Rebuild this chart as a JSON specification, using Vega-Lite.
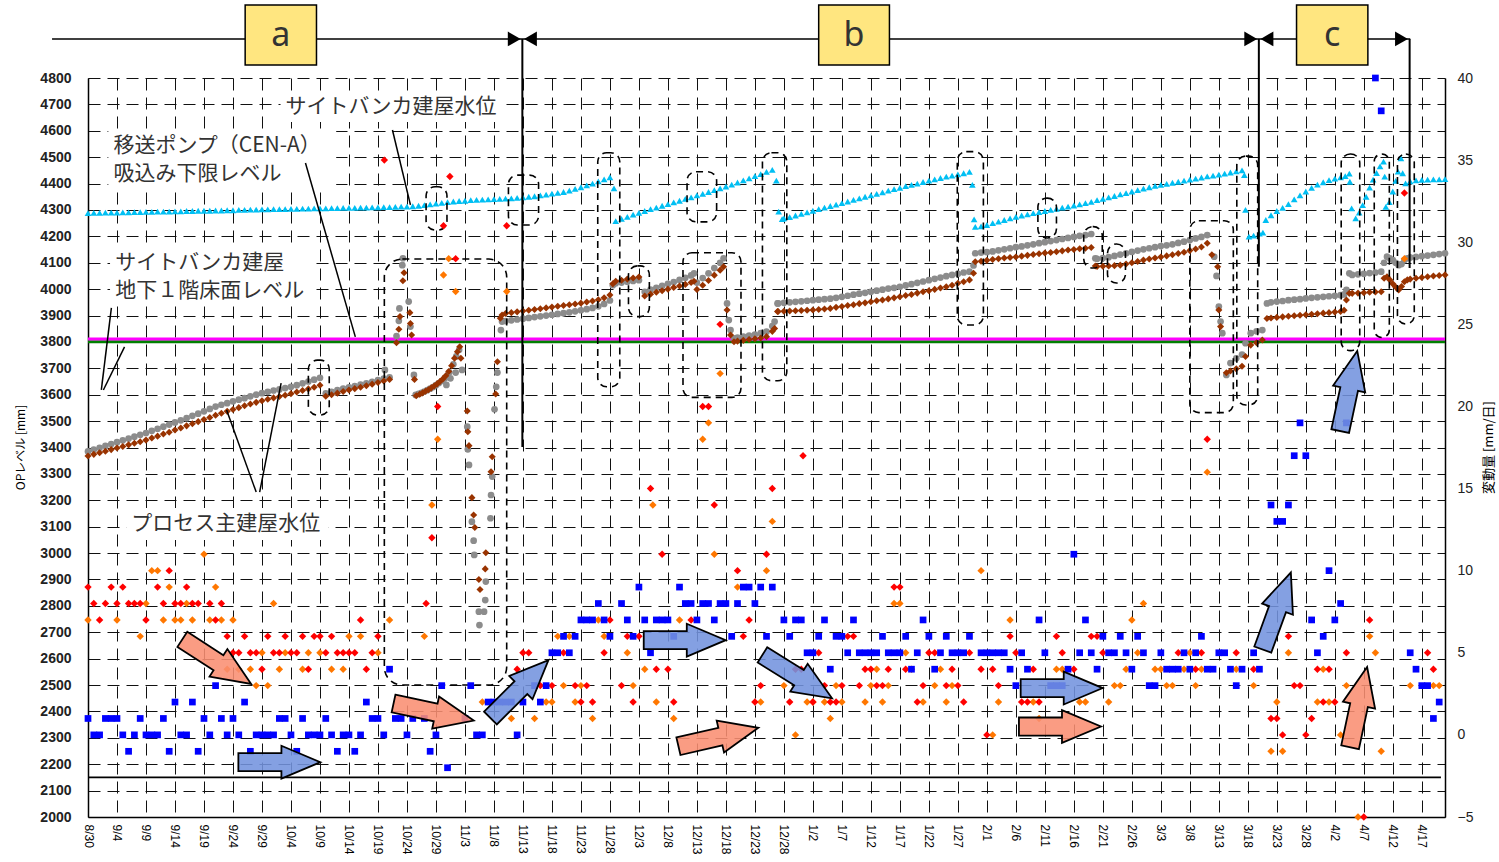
{
"$schema":"https://vega.github.io/schema/vega-lite/v6.json",
"width":1357,"height":739,
"autosize":{"type":"none"},
"padding":{"left":88,"top":78,"right":54,"bottom":45},
"background":"white",
"config":{"view":{"stroke":null},"axis":{"labelFont":"Liberation Sans","titleFont":"Noto Sans CJK JP"},"axisX":{"labelOverlap":false}},
"datasets":{
"levels":[
{"day":0,"sb":4288,"gr":3385,"br":3368},{"day":1,"sb":4289,"gr":3392,"br":3374},{"day":2,"sb":4289,"gr":3399,"br":3380},{"day":3,"sb":4290,"gr":3406,"br":3386},{"day":4,"sb":4290,"gr":3413,"br":3392},{"day":5,"sb":4290,"gr":3420,"br":3398},{"day":6,"sb":4291,"gr":3427,"br":3404},{"day":7,"sb":4291,"gr":3434,"br":3410},{"day":8,"sb":4292,"gr":3441,"br":3416},{"day":9,"sb":4292,"gr":3448,"br":3422},
{"day":10,"sb":4293,"gr":3455,"br":3428},{"day":11,"sb":4293,"gr":3463,"br":3436},{"day":12,"sb":4294,"gr":3471,"br":3443},{"day":13,"sb":4294,"gr":3479,"br":3451},{"day":14,"sb":4294,"gr":3487,"br":3458},{"day":15,"sb":4295,"gr":3495,"br":3466},{"day":16,"sb":4295,"gr":3503,"br":3474},{"day":17,"sb":4296,"gr":3511,"br":3482},{"day":18,"sb":4296,"gr":3520,"br":3490},{"day":19,"sb":4297,"gr":3528,"br":3498},
{"day":20,"sb":4297,"gr":3537,"br":3506},{"day":21,"sb":4297,"gr":3546,"br":3514},{"day":22,"sb":4298,"gr":3555,"br":3522},{"day":23,"sb":4298,"gr":3562,"br":3530},{"day":24,"sb":4299,"gr":3568,"br":3537},{"day":25,"sb":4299,"gr":3575,"br":3544},{"day":26,"sb":4300,"gr":3581,"br":3551},{"day":27,"sb":4300,"gr":3587,"br":3558},{"day":28,"sb":4301,"gr":3594,"br":3565},{"day":29,"sb":4301,"gr":3600,"br":3571},
{"day":30,"sb":4302,"gr":3606,"br":3577},{"day":31,"sb":4302,"gr":3611,"br":3583},{"day":32,"sb":4303,"gr":3616,"br":3588},{"day":33,"sb":4303,"gr":3620,"br":3593},{"day":34,"sb":4303,"gr":3625,"br":3598},{"day":35,"sb":4304,"gr":3630,"br":3604},{"day":36,"sb":4304,"gr":3636,"br":3610},{"day":37,"sb":4305,"gr":3643,"br":3616},{"day":38,"sb":4305,"gr":3650,"br":3622},{"day":39,"sb":4306,"gr":3657,"br":3628},
{"day":40,"sb":4306,"gr":3664,"br":3636},{"day":41,"sb":4306,"gr":3605,"br":3594},{"day":42,"sb":4307,"gr":3611,"br":3600},{"day":43,"sb":4307,"gr":3617,"br":3606},{"day":44,"sb":4308,"gr":3623,"br":3612},{"day":45,"sb":4308,"gr":3628,"br":3618},{"day":46,"sb":4308,"gr":3633,"br":3623},{"day":47,"sb":4309,"gr":3638,"br":3628},{"day":48,"sb":4309,"gr":3643,"br":3634},{"day":49,"sb":4310,"gr":3649,"br":3640},
{"day":50,"sb":4310,"gr":3655,"br":3646},{"day":51,"sb":4311,"gr":3661,"br":3652},{"day":52,"sb":4311,"gr":3666,"br":3658},
{"day":53,"sb":4312},{"day":54,"sb":4313},{"day":55,"sb":4313},{"day":56,"sb":4314},{"day":57,"sb":4316},{"day":58,"sb":4318},{"day":59,"sb":4321},{"day":60,"sb":4324},{"day":61,"sb":4327},{"day":62,"sb":4330},{"day":63,"sb":4332},{"day":64,"sb":4334},{"day":65,"sb":4335},{"day":66,"sb":4337},{"day":67,"sb":4338},{"day":68,"sb":4339},{"day":69,"sb":4340},{"day":70,"sb":4341},{"day":71,"sb":4342},
{"day":51.2,"gr":3694},{"day":53.2,"gr":3822,"br":3797},{"day":53.6,"gr":3880,"br":3848},{"day":53.7,"gr":3927},{"day":53.8,"br":3896},{"day":54.2,"gr":4091},{"day":54.3,"gr":4117,"br":4032},{"day":54.5,"br":4062},{"day":55.3,"gr":3953},{"day":55.5,"br":3911},{"day":55.6,"gr":3858,"br":3870},{"day":55.8,"br":3826},{"day":56.2,"gr":3675},{"day":56.3,"br":3658},
{"day":56.5,"gr":3599},{"day":57,"gr":3603},{"day":57.5,"gr":3607},{"day":58,"gr":3612},{"day":58.5,"gr":3617},{"day":59,"gr":3623},{"day":59.5,"gr":3629},{"day":60,"gr":3636},{"day":60.5,"gr":3644},{"day":61,"gr":3652},{"day":61.5,"gr":3661},{"day":61.8,"gr":3637},{"day":62,"gr":3672},{"day":62.3,"gr":3685},{"day":62.5,"gr":3662},{"day":63,"gr":3715},{"day":63.4,"gr":3684},{"day":63.5,"gr":3745},{"day":64,"gr":3770},{"day":64.5,"gr":3694},
{"day":56.6,"br":3596},{"day":57.2,"br":3602},{"day":57.7,"br":3607},{"day":58.2,"br":3613},{"day":58.7,"br":3619},{"day":59.2,"br":3626},{"day":59.7,"br":3633},{"day":60.2,"br":3641},{"day":60.7,"br":3650},{"day":61.2,"br":3660},{"day":61.7,"br":3672},{"day":62.2,"br":3688},{"day":62.7,"br":3710},{"day":63.2,"br":3738},{"day":63.7,"br":3763},{"day":64.1,"br":3782},{"day":64.3,"br":3738},
{"day":65.4,"gr":3479,"br":3538},{"day":65.5,"gr":3393,"br":3460},{"day":65.7,"gr":3334,"br":3407},{"day":66.2,"gr":3119,"br":3210},{"day":66.5,"gr":3047,"br":3144},{"day":66.6,"gr":2993},{"day":66.7,"br":3097},{"day":67.4,"gr":2778,"br":2900},{"day":67.5,"gr":2727},{"day":67.6,"br":2862},{"day":68.3,"gr":2778},{"day":68.5,"gr":2822,"br":2940},{"day":68.6,"gr":2892,"br":3001},{"day":69.4,"gr":3132},{"day":69.5,"gr":3220,"br":3308},{"day":69.7,"gr":3290,"br":3365},{"day":70.1,"gr":3545},{"day":70.3,"br":3603},{"day":70.4,"gr":3630},{"day":70.6,"gr":3684,"br":3725},{"day":71.1,"br":3890},{"day":71.2,"gr":3845},{"day":71.4,"gr":3877,"br":3902},
{"day":72,"sb":4343,"gr":3879,"br":3908},{"day":73,"sb":4344,"gr":3882,"br":3911},{"day":74,"sb":4346,"gr":3885,"br":3914},{"day":75,"sb":4348,"gr":3888,"br":3917},{"day":76,"sb":4350,"gr":3891,"br":3920},{"day":77,"sb":4352,"gr":3894,"br":3923},{"day":78,"sb":4355,"gr":3897,"br":3926},{"day":79,"sb":4358,"gr":3900,"br":3929},{"day":80,"sb":4362,"gr":3903,"br":3932},{"day":81,"sb":4365,"gr":3906,"br":3935},
{"day":82,"sb":4368,"gr":3909,"br":3938},{"day":83,"sb":4373,"gr":3912,"br":3941},{"day":84,"sb":4380,"gr":3916,"br":3944},{"day":85,"sb":4386,"gr":3920,"br":3947},{"day":86,"sb":4393,"gr":3924,"br":3951},{"day":87,"sb":4400,"gr":3929,"br":3955},{"day":88,"sb":4408,"gr":3935,"br":3960},{"day":89,"sb":4416,"gr":3944,"br":3967},{"day":90,"sb":4424,"gr":3957,"br":3978},
{"day":90.5,"gr":4015,"br":4020},{"day":90.7,"sb":4382},
{"day":91,"sb":4258,"gr":4022,"br":4030},{"day":92,"sb":4266,"gr":4025,"br":4034},{"day":93,"sb":4274,"gr":4028,"br":4038},{"day":94,"sb":4282,"gr":4031,"br":4042},{"day":95,"sb":4289,"gr":4034,"br":4046},
{"day":96,"sb":4296,"gr":3990,"br":3974},{"day":97,"sb":4303,"gr":3998,"br":3981},{"day":98,"sb":4309,"gr":4005,"br":3988},{"day":99,"sb":4316,"gr":4012,"br":3994},{"day":100,"sb":4322,"gr":4020,"br":4000},{"day":101,"sb":4329,"gr":4027,"br":4006},{"day":102,"sb":4335,"gr":4035,"br":4012},{"day":103,"sb":4342,"gr":4043,"br":4018},{"day":104,"sb":4348,"gr":4052,"br":4025},{"day":104.5,"gr":4060,"br":4030},
{"day":105,"sb":4355,"gr":4025,"br":3999},{"day":106,"sb":4361,"gr":4042,"br":4015},{"day":107,"sb":4368,"gr":4060,"br":4033},{"day":108,"sb":4375,"gr":4080,"br":4053},{"day":109,"sb":4382,"gr":4100,"br":4072},{"day":109.6,"gr":4117,"br":4085},{"day":110,"sb":4389},{"day":110.2,"gr":3946,"br":3921},{"day":110.5,"gr":3883},{"day":110.8,"gr":3845,"br":3826},{"day":111,"sb":4396},{"day":111.4,"gr":3814,"br":3801},
{"day":112,"sb":4404,"gr":3816,"br":3803},{"day":113,"sb":4412,"gr":3820,"br":3806},{"day":114,"sb":4420,"gr":3824,"br":3809},{"day":115,"sb":4428,"gr":3828,"br":3812},{"day":116,"sb":4436,"gr":3833,"br":3815},{"day":117,"sb":4444,"gr":3839,"br":3820},{"day":118,"sb":4452,"gr":3860,"br":3840},{"day":118.4,"gr":3877,"br":3851},{"day":118.7,"sb":4411},{"day":118.9,"gr":3946,"br":3915},{"day":119.1,"sb":4294},{"day":119.7,"sb":4265},
{"day":119,"gr":3946,"br":3915},{"day":120,"sb":4268,"gr":3948,"br":3916},{"day":121,"sb":4273,"gr":3950,"br":3917},{"day":122,"sb":4279,"gr":3952,"br":3918},{"day":123,"sb":4285,"gr":3954,"br":3919},{"day":124,"sb":4291,"gr":3956,"br":3920},{"day":125,"sb":4297,"gr":3958,"br":3921},{"day":126,"sb":4303,"gr":3960,"br":3923},{"day":127,"sb":4309,"gr":3962,"br":3925},{"day":128,"sb":4315,"gr":3964,"br":3927},
{"day":129,"sb":4320,"gr":3967,"br":3931},{"day":130,"sb":4326,"gr":3971,"br":3934},{"day":131,"sb":4332,"gr":3975,"br":3938},{"day":132,"sb":4338,"gr":3979,"br":3941},{"day":133,"sb":4344,"gr":3983,"br":3945},{"day":134,"sb":4350,"gr":3986,"br":3948},{"day":135,"sb":4355,"gr":3990,"br":3952},{"day":136,"sb":4361,"gr":3994,"br":3956},{"day":137,"sb":4367,"gr":3998,"br":3959},{"day":138,"sb":4373,"gr":4002,"br":3963},
{"day":139,"sb":4379,"gr":4005,"br":3967},{"day":140,"sb":4384,"gr":4009,"br":3971},{"day":141,"sb":4390,"gr":4014,"br":3976},{"day":142,"sb":4395,"gr":4019,"br":3980},{"day":143,"sb":4400,"gr":4024,"br":3985},{"day":144,"sb":4406,"gr":4029,"br":3990},{"day":145,"sb":4411,"gr":4034,"br":3994},{"day":146,"sb":4416,"gr":4039,"br":3999},{"day":147,"sb":4421,"gr":4044,"br":4004},{"day":148,"sb":4426,"gr":4049,"br":4009},
{"day":149,"sb":4430,"gr":4054,"br":4015},{"day":150,"sb":4435,"gr":4058,"br":4022},{"day":151,"sb":4439,"gr":4063,"br":4028},{"day":152,"sb":4444,"gr":4066,"br":4035},{"day":152.5,"sb":4395},{"day":152.7,"gr":4090,"br":4060},{"day":152.8,"sb":4264},
{"day":153,"sb":4236,"gr":4136,"br":4104},{"day":154,"sb":4238,"gr":4138,"br":4106},{"day":155,"sb":4243,"gr":4140,"br":4109},{"day":156,"sb":4250,"gr":4143,"br":4112},{"day":157,"sb":4256,"gr":4147,"br":4115},{"day":158,"sb":4262,"gr":4151,"br":4118},{"day":159,"sb":4268,"gr":4155,"br":4120},{"day":160,"sb":4274,"gr":4159,"br":4122},{"day":161,"sb":4279,"gr":4162,"br":4125},{"day":162,"sb":4283,"gr":4166,"br":4128},
{"day":163,"sb":4288,"gr":4170,"br":4131},{"day":164,"sb":4292,"gr":4174,"br":4134},{"day":165,"sb":4296,"gr":4178,"br":4137},{"day":166,"sb":4300,"gr":4182,"br":4139},{"day":167,"sb":4304,"gr":4186,"br":4142},{"day":168,"sb":4309,"gr":4190,"br":4145},{"day":169,"sb":4313,"gr":4194,"br":4148},{"day":170,"sb":4317,"gr":4198,"br":4150},{"day":171,"sb":4321,"gr":4202,"br":4153},{"day":172,"sb":4326,"gr":4205,"br":4155},
{"day":173,"sb":4331,"gr":4209,"br":4158},{"day":173.7,"gr":4117,"br":4088},{"day":174,"sb":4337,"gr":4115,"br":4086},{"day":175,"sb":4342,"gr":4118,"br":4087},{"day":176,"sb":4348,"gr":4121,"br":4088},{"day":177,"sb":4353,"gr":4126,"br":4089},{"day":178,"sb":4359,"gr":4131,"br":4091},{"day":179,"sb":4364,"gr":4136,"br":4095},{"day":180,"sb":4370,"gr":4141,"br":4100},{"day":181,"sb":4375,"gr":4146,"br":4105},
{"day":182,"sb":4381,"gr":4151,"br":4110},{"day":183,"sb":4386,"gr":4155,"br":4114},{"day":184,"sb":4391,"gr":4159,"br":4118},{"day":185,"sb":4395,"gr":4163,"br":4122},{"day":186,"sb":4399,"gr":4166,"br":4126},{"day":187,"sb":4403,"gr":4170,"br":4130},{"day":188,"sb":4407,"gr":4175,"br":4135},{"day":189,"sb":4411,"gr":4180,"br":4140},{"day":190,"sb":4415,"gr":4186,"br":4146},{"day":191,"sb":4419,"gr":4192,"br":4152},
{"day":192,"sb":4423,"gr":4198,"br":4160},{"day":193,"sb":4427,"gr":4205,"br":4174},{"day":193.8,"br":4130},{"day":194,"sb":4430},{"day":194.2,"gr":4123},{"day":194.6,"gr":4050},{"day":194.8,"br":4085},{"day":195,"sb":4434,"gr":3934,"br":3921},{"day":195.3,"gr":3877,"br":3858},{"day":195.6,"gr":3833},{"day":196,"sb":4438},{"day":196.3,"gr":3675,"br":3683},
{"day":197,"sb":4442,"gr":3720,"br":3690},{"day":198,"sb":4446,"gr":3738,"br":3698},{"day":199,"sb":4450,"gr":3752,"br":3708},{"day":199.4,"sb":4432},{"day":199.6,"sb":4300,"gr":3795,"br":3745},{"day":200.2,"sb":4199},{"day":200.5,"gr":3833,"br":3788},{"day":201,"sb":4203},{"day":201.5,"gr":3840,"br":3797},{"day":202,"sb":4210},{"day":202.5,"gr":3845,"br":3807},{"day":202.6,"sb":4214},{"day":203.1,"sb":4262},{"day":203.3,"gr":3946,"br":3889},
{"day":204,"sb":4280,"gr":3950,"br":3891},{"day":205,"sb":4296,"gr":3953,"br":3893},{"day":206,"sb":4308,"gr":3955,"br":3895},{"day":207,"sb":4322,"gr":3958,"br":3897},{"day":208,"sb":4340,"gr":3960,"br":3899},{"day":209,"sb":4355,"gr":3962,"br":3901},{"day":210,"sb":4370,"gr":3965,"br":3903},{"day":211,"sb":4384,"gr":3967,"br":3905},{"day":212,"sb":4396,"gr":3969,"br":3907},{"day":213,"sb":4405,"gr":3971,"br":3909},
{"day":214,"sb":4413,"gr":3973,"br":3911},{"day":215,"sb":4419,"gr":3975,"br":3913},{"day":216,"sb":4424,"gr":3977,"br":3915},{"day":216.6,"gr":3980,"br":3920},{"day":216.8,"sb":4428},{"day":217,"gr":3997,"br":3959},{"day":217.5,"sb":4438,"gr":4060,"br":3984},{"day":217.6,"sb":4407},{"day":217.9,"sb":4306},{"day":218,"gr":4054,"br":3984},{"day":218.6,"sb":4268},
{"day":219,"gr":4056,"br":3985},{"day":219.2,"sb":4290},{"day":219.8,"sb":4318},{"day":220,"gr":4058,"br":3986},{"day":220.4,"sb":4350},{"day":221,"sb":4385,"gr":4061,"br":3988},{"day":221.6,"sb":4415},{"day":222,"gr":4063,"br":3989},{"day":222.2,"sb":4440},{"day":222.8,"sb":4465},{"day":223,"gr":4066,"br":3990},{"day":223.4,"sb":4483},{"day":223.5,"gr":4100,"br":4041},{"day":223.6,"sb":4426},{"day":223.8,"sb":4312},
{"day":224,"gr":4123,"br":4047},{"day":224.4,"sb":4330},{"day":224.5,"gr":4117,"br":4035},{"day":225,"sb":4370,"gr":4110,"br":4020},{"day":225.5,"sb":4410,"gr":4100,"br":4008},{"day":225.9,"sb":4445},{"day":226,"gr":4091,"br":3997},{"day":226.4,"sb":4496},{"day":226.5,"gr":4095,"br":4010},{"day":226.7,"sb":4439},{"day":227,"gr":4110,"br":4028},{"day":227.2,"sb":4401},{"day":227.5,"gr":4117,"br":4035},
{"day":228,"sb":4408,"gr":4120,"br":4038},{"day":229,"sb":4412,"gr":4122,"br":4041},{"day":230,"sb":4414,"gr":4125,"br":4044},{"day":231,"sb":4415,"gr":4127,"br":4047},{"day":232,"sb":4416,"gr":4130,"br":4050},{"day":233,"sb":4416,"gr":4133,"br":4052},{"day":234,"sb":4417,"gr":4136,"br":4054}
],
"rates":[
{"day":0,"s":"P","rate":9},{"day":1,"s":"P","rate":8},{"day":2,"s":"P","rate":7},{"day":3,"s":"P","rate":8},{"day":4,"s":"P","rate":9},{"day":5,"s":"P","rate":8},{"day":6,"s":"P","rate":9},{"day":7,"s":"P","rate":8},{"day":8,"s":"P","rate":8},{"day":9,"s":"P","rate":8},{"day":10,"s":"P","rate":7},{"day":12,"s":"P","rate":9},{"day":13,"s":"P","rate":8},{"day":14,"s":"P","rate":10},{"day":15,"s":"P","rate":8},{"day":16,"s":"P","rate":8},{"day":17,"s":"P","rate":9},{"day":18,"s":"P","rate":8},{"day":19,"s":"P","rate":8},{"day":21,"s":"P","rate":8},{"day":22,"s":"P","rate":7},{"day":23,"s":"P","rate":8},{"day":24,"s":"P","rate":6},{"day":25,"s":"P","rate":5},{"day":26,"s":"P","rate":5},{"day":27,"s":"P","rate":6},{"day":28,"s":"P","rate":5},{"day":29,"s":"P","rate":5},{"day":30,"s":"P","rate":4},{"day":31,"s":"P","rate":6},{"day":32,"s":"P","rate":5},{"day":33,"s":"P","rate":5},{"day":34,"s":"P","rate":6},{"day":35,"s":"P","rate":5},{"day":36,"s":"P","rate":5},{"day":37,"s":"P","rate":6},{"day":38,"s":"P","rate":4},{"day":39,"s":"P","rate":6},{"day":40,"s":"P","rate":6},{"day":41,"s":"P","rate":5},{"day":42,"s":"P","rate":6},{"day":43,"s":"P","rate":5},{"day":44,"s":"P","rate":5},{"day":45,"s":"P","rate":5},{"day":46,"s":"P","rate":5},{"day":47,"s":"P","rate":7},{"day":48,"s":"P","rate":4},{"day":49,"s":"P","rate":5},{"day":50,"s":"P","rate":6},{"day":51.1,"s":"P","rate":35},{"day":58.3,"s":"P","rate":8},{"day":59.3,"s":"P","rate":12},{"day":60.3,"s":"P","rate":20},{"day":61.3,"s":"P","rate":31},{"day":62.4,"s":"P","rate":34},{"day":63.4,"s":"P","rate":29},{"day":72.2,"s":"P","rate":31},
{"day":74,"s":"P","rate":4},{"day":75,"s":"P","rate":5},{"day":76,"s":"P","rate":5},{"day":78,"s":"P","rate":3},{"day":80,"s":"P","rate":3},{"day":82,"s":"P","rate":5},{"day":84,"s":"P","rate":3},{"day":85,"s":"P","rate":2},{"day":86,"s":"P","rate":3},{"day":87,"s":"P","rate":2},{"day":89,"s":"P","rate":5},{"day":90,"s":"P","rate":7},{"day":92,"s":"P","rate":3},{"day":93,"s":"P","rate":6},{"day":94,"s":"P","rate":2},{"day":95,"s":"P","rate":6},{"day":97,"s":"P","rate":15},{"day":98,"s":"P","rate":4},{"day":99,"s":"P","rate":11},{"day":100,"s":"P","rate":4},{"day":101,"s":"P","rate":2},{"day":104,"s":"P","rate":7},{"day":106,"s":"P","rate":20},{"day":107,"s":"P","rate":20},{"day":108,"s":"P","rate":14},{"day":109,"s":"P","rate":25},{"day":112,"s":"P","rate":10},{"day":113,"s":"P","rate":6},{"day":114,"s":"P","rate":7},{"day":115,"s":"P","rate":2},{"day":116,"s":"P","rate":3},{"day":117,"s":"P","rate":11},{"day":118,"s":"P","rate":15},{"day":121,"s":"P","rate":2},{"day":122,"s":"P","rate":4},{"day":123,"s":"P","rate":4},{"day":123.3,"s":"P","rate":17},{"day":125,"s":"P","rate":2},{"day":126,"s":"P","rate":5},{"day":127,"s":"P","rate":3},{"day":128,"s":"P","rate":2},{"day":129,"s":"P","rate":2},{"day":130,"s":"P","rate":3},{"day":131,"s":"P","rate":6},{"day":132,"s":"P","rate":6},{"day":133,"s":"P","rate":3},{"day":134,"s":"P","rate":4},{"day":135,"s":"P","rate":4},{"day":136,"s":"P","rate":3},{"day":137,"s":"P","rate":3},{"day":138,"s":"P","rate":4},{"day":139,"s":"P","rate":9},{"day":140,"s":"P","rate":9},{"day":141,"s":"P","rate":4},{"day":143,"s":"P","rate":2},{"day":144,"s":"P","rate":3},{"day":145,"s":"P","rate":5},{"day":146,"s":"P","rate":5},{"day":148,"s":"P","rate":3},
{"day":149,"s":"P","rate":4},{"day":150,"s":"P","rate":3},{"day":151,"s":"P","rate":2},{"day":152,"s":"P","rate":5},{"day":154,"s":"P","rate":4},{"day":155,"s":"P","rate":0},{"day":156,"s":"P","rate":4},{"day":157,"s":"P","rate":3},{"day":159,"s":"P","rate":6},{"day":160,"s":"P","rate":5},{"day":161,"s":"P","rate":2},{"day":162,"s":"P","rate":2},{"day":163,"s":"P","rate":4},{"day":164,"s":"P","rate":2},{"day":167,"s":"P","rate":6},{"day":168,"s":"P","rate":5},{"day":170,"s":"P","rate":4},{"day":173,"s":"P","rate":6},{"day":174,"s":"P","rate":6},{"day":175,"s":"P","rate":5},{"day":188,"s":"P","rate":5},{"day":191,"s":"P","rate":4},{"day":192,"s":"P","rate":5},{"day":193,"s":"P","rate":18},{"day":198,"s":"P","rate":5},{"day":201,"s":"P","rate":4},{"day":204,"s":"P","rate":1},{"day":205,"s":"P","rate":1},{"day":206,"s":"P","rate":0},{"day":207,"s":"P","rate":6},{"day":208,"s":"P","rate":3},{"day":209,"s":"P","rate":3},{"day":210,"s":"P","rate":0},{"day":211,"s":"P","rate":1},{"day":212,"s":"P","rate":4},{"day":213,"s":"P","rate":2},{"day":214,"s":"P","rate":4},{"day":215,"s":"P","rate":2},{"day":217,"s":"P","rate":5},{"day":220,"s":"P","rate":-5},{"day":221,"s":"P","rate":7},{"day":227,"s":"P","rate":33},{"day":231,"s":"P","rate":5},{"day":232,"s":"P","rate":4},
{"day":0,"s":"H","rate":7},{"day":5,"s":"H","rate":7},{"day":9,"s":"H","rate":6},{"day":10,"s":"H","rate":8},{"day":11,"s":"H","rate":10},{"day":12,"s":"H","rate":10},{"day":13,"s":"H","rate":7},{"day":14,"s":"H","rate":9},{"day":15,"s":"H","rate":7},{"day":16,"s":"H","rate":7},{"day":17,"s":"H","rate":8},{"day":18,"s":"H","rate":7},{"day":20,"s":"H","rate":11},{"day":21,"s":"H","rate":7},{"day":22,"s":"H","rate":9},{"day":23,"s":"H","rate":7},{"day":24,"s":"H","rate":4},{"day":25,"s":"H","rate":7},{"day":26,"s":"H","rate":4},{"day":28,"s":"H","rate":4},{"day":29,"s":"H","rate":3},{"day":30,"s":"H","rate":5},{"day":31,"s":"H","rate":3},{"day":32,"s":"H","rate":8},{"day":33,"s":"H","rate":4},{"day":34,"s":"H","rate":5},{"day":37,"s":"H","rate":4},{"day":38,"s":"H","rate":5},{"day":40,"s":"H","rate":5},{"day":42,"s":"H","rate":4},{"day":44,"s":"H","rate":4},{"day":45,"s":"H","rate":6},{"day":47,"s":"H","rate":6},{"day":50,"s":"H","rate":5},{"day":52,"s":"H","rate":7},{"day":58,"s":"H","rate":6},{"day":59.3,"s":"H","rate":14},{"day":60.3,"s":"H","rate":18},{"day":61.3,"s":"H","rate":28},{"day":62.2,"s":"H","rate":29},{"day":63.4,"s":"H","rate":27},{"day":68,"s":"H","rate":2},{"day":72.2,"s":"H","rate":27},
{"day":73,"s":"H","rate":1},{"day":77,"s":"H","rate":1},{"day":79,"s":"H","rate":2},{"day":80,"s":"H","rate":2},{"day":81,"s":"H","rate":6},{"day":82,"s":"H","rate":3},{"day":83,"s":"H","rate":6},{"day":84,"s":"H","rate":2},{"day":85,"s":"H","rate":3},{"day":87,"s":"H","rate":1},{"day":88,"s":"H","rate":7},{"day":89,"s":"H","rate":6},{"day":93,"s":"H","rate":5},{"day":94,"s":"H","rate":3},{"day":96,"s":"H","rate":4},{"day":97.4,"s":"H","rate":14},{"day":98,"s":"H","rate":2},{"day":101,"s":"H","rate":1},{"day":102,"s":"H","rate":7},{"day":106,"s":"H","rate":18},{"day":107,"s":"H","rate":19},{"day":108,"s":"H","rate":11},{"day":109,"s":"H","rate":22},{"day":112,"s":"H","rate":9},{"day":116,"s":"H","rate":2},{"day":117,"s":"H","rate":10},{"day":118,"s":"H","rate":13},{"day":120,"s":"H","rate":3},{"day":122,"s":"H","rate":0},{"day":124,"s":"H","rate":2},{"day":125,"s":"H","rate":2},{"day":127,"s":"H","rate":2},{"day":128,"s":"H","rate":1},{"day":129,"s":"H","rate":3},{"day":130,"s":"H","rate":2},{"day":134,"s":"H","rate":2},{"day":135,"s":"H","rate":3},{"day":136,"s":"H","rate":4},{"day":137,"s":"H","rate":2},{"day":138,"s":"H","rate":3},{"day":139,"s":"H","rate":8},{"day":140,"s":"H","rate":8},{"day":141,"s":"H","rate":5},{"day":142,"s":"H","rate":4},{"day":144,"s":"H","rate":2},{"day":146,"s":"H","rate":3},{"day":147,"s":"H","rate":4},{"day":148,"s":"H","rate":2},
{"day":149,"s":"H","rate":3},{"day":154,"s":"H","rate":10},{"day":156,"s":"H","rate":0},{"day":157,"s":"H","rate":2},{"day":159,"s":"H","rate":7},{"day":163,"s":"H","rate":2},{"day":164,"s":"H","rate":1},{"day":167,"s":"H","rate":4},{"day":168,"s":"H","rate":4},{"day":171,"s":"H","rate":2},{"day":172,"s":"H","rate":2},{"day":176,"s":"H","rate":2},{"day":177,"s":"H","rate":3},{"day":178,"s":"H","rate":3},{"day":179,"s":"H","rate":4},{"day":180,"s":"H","rate":7},{"day":181,"s":"H","rate":5},{"day":182,"s":"H","rate":8},{"day":184,"s":"H","rate":4},{"day":185,"s":"H","rate":4},{"day":186,"s":"H","rate":3},{"day":187,"s":"H","rate":3},{"day":189,"s":"H","rate":4},{"day":190,"s":"H","rate":5},{"day":191,"s":"H","rate":3},{"day":192,"s":"H","rate":4},{"day":193,"s":"H","rate":16},{"day":198,"s":"H","rate":4},{"day":201,"s":"H","rate":3},{"day":204,"s":"H","rate":-1},{"day":205,"s":"H","rate":2},{"day":206,"s":"H","rate":-1},{"day":207,"s":"H","rate":5},{"day":212,"s":"H","rate":2},{"day":213,"s":"H","rate":4},{"day":214,"s":"H","rate":2},{"day":216,"s":"H","rate":0},{"day":217,"s":"H","rate":3},{"day":219,"s":"H","rate":-5},{"day":221,"s":"H","rate":6},{"day":222,"s":"H","rate":5},{"day":223,"s":"H","rate":-1},{"day":227,"s":"H","rate":29},{"day":228,"s":"H","rate":3},{"day":232,"s":"H","rate":3},{"day":233,"s":"H","rate":3},
{"day":0,"s":"S","rate":1},{"day":1,"s":"S","rate":0},{"day":2,"s":"S","rate":0},{"day":3,"s":"S","rate":1},{"day":4,"s":"S","rate":1},{"day":5,"s":"S","rate":1},{"day":6,"s":"S","rate":0},{"day":7,"s":"S","rate":-1},{"day":8,"s":"S","rate":0},{"day":9,"s":"S","rate":1},{"day":10,"s":"S","rate":0},{"day":11,"s":"S","rate":0},{"day":12,"s":"S","rate":0},{"day":13,"s":"S","rate":1},{"day":14,"s":"S","rate":-1},{"day":15,"s":"S","rate":2},{"day":16,"s":"S","rate":0},{"day":17,"s":"S","rate":0},{"day":18,"s":"S","rate":2},{"day":19,"s":"S","rate":-1},{"day":20,"s":"S","rate":1},{"day":21,"s":"S","rate":0},{"day":22,"s":"S","rate":3},{"day":23,"s":"S","rate":1},{"day":24,"s":"S","rate":0},{"day":25,"s":"S","rate":1},{"day":26,"s":"S","rate":0},{"day":27,"s":"S","rate":2},{"day":28,"s":"S","rate":-1},{"day":29,"s":"S","rate":0},{"day":30,"s":"S","rate":0},{"day":31,"s":"S","rate":0},{"day":32,"s":"S","rate":0},{"day":33,"s":"S","rate":1},{"day":34,"s":"S","rate":1},{"day":35,"s":"S","rate":0},{"day":36,"s":"S","rate":-1},{"day":37,"s":"S","rate":1},{"day":38,"s":"S","rate":0},{"day":39,"s":"S","rate":0},{"day":40,"s":"S","rate":0},{"day":41,"s":"S","rate":1},{"day":42,"s":"S","rate":0},{"day":43,"s":"S","rate":-1},{"day":44,"s":"S","rate":0},{"day":45,"s":"S","rate":0},{"day":46,"s":"S","rate":-1},{"day":47,"s":"S","rate":0},{"day":48,"s":"S","rate":2},{"day":49,"s":"S","rate":1},{"day":50,"s":"S","rate":1},{"day":51,"s":"S","rate":0},{"day":52,"s":"S","rate":4},{"day":53,"s":"S","rate":1},{"day":54,"s":"S","rate":1},{"day":55,"s":"S","rate":0},{"day":56,"s":"S","rate":1},{"day":58,"s":"S","rate":1},{"day":59,"s":"S","rate":-1},{"day":60,"s":"S","rate":0},{"day":61,"s":"S","rate":3},{"day":62,"s":"S","rate":-2},{"day":65,"s":"S","rate":1},{"day":66,"s":"S","rate":3},{"day":67,"s":"S","rate":0},{"day":68,"s":"S","rate":0},{"day":69,"s":"S","rate":2},{"day":70,"s":"S","rate":2},{"day":71,"s":"S","rate":2},{"day":72,"s":"S","rate":2},{"day":73,"s":"S","rate":2},{"day":74,"s":"S","rate":0},{"day":75,"s":"S","rate":2},{"day":77,"s":"S","rate":3},{"day":78,"s":"S","rate":2},{"day":79,"s":"S","rate":3},
{"day":80,"s":"S","rate":5},{"day":81,"s":"S","rate":5},{"day":82,"s":"S","rate":6},{"day":83,"s":"S","rate":5},{"day":84,"s":"S","rate":6},{"day":85,"s":"S","rate":7},{"day":86,"s":"S","rate":7},{"day":87,"s":"S","rate":7},{"day":88,"s":"S","rate":8},{"day":89,"s":"S","rate":7},{"day":90,"s":"S","rate":6},{"day":92,"s":"S","rate":8},{"day":93,"s":"S","rate":7},{"day":94,"s":"S","rate":6},{"day":95,"s":"S","rate":9},{"day":96,"s":"S","rate":7},{"day":97,"s":"S","rate":5},{"day":98,"s":"S","rate":7},{"day":99,"s":"S","rate":7},{"day":100,"s":"S","rate":7},{"day":101,"s":"S","rate":6},{"day":102,"s":"S","rate":9},{"day":103,"s":"S","rate":8},{"day":104,"s":"S","rate":8},{"day":105,"s":"S","rate":7},{"day":106,"s":"S","rate":8},{"day":107,"s":"S","rate":8},{"day":108,"s":"S","rate":7},{"day":109,"s":"S","rate":8},{"day":110,"s":"S","rate":8},{"day":111,"s":"S","rate":6},{"day":112,"s":"S","rate":8},{"day":113,"s":"S","rate":9},{"day":114,"s":"S","rate":9},{"day":115,"s":"S","rate":8},{"day":116,"s":"S","rate":9},{"day":117,"s":"S","rate":6},{"day":118,"s":"S","rate":9},{"day":120,"s":"S","rate":7},{"day":121,"s":"S","rate":6},{"day":122,"s":"S","rate":7},{"day":123,"s":"S","rate":7},{"day":124,"s":"S","rate":5},{"day":125,"s":"S","rate":5},{"day":126,"s":"S","rate":6},{"day":127,"s":"S","rate":7},{"day":128,"s":"S","rate":4},{"day":129,"s":"S","rate":6},{"day":130,"s":"S","rate":6},{"day":131,"s":"S","rate":5},{"day":132,"s":"S","rate":7},{"day":133,"s":"S","rate":5},{"day":134,"s":"S","rate":5},{"day":135,"s":"S","rate":5},{"day":136,"s":"S","rate":5},{"day":137,"s":"S","rate":6},{"day":138,"s":"S","rate":5},{"day":139,"s":"S","rate":5},{"day":140,"s":"S","rate":5},{"day":141,"s":"S","rate":6},{"day":142,"s":"S","rate":4},{"day":143,"s":"S","rate":5},{"day":144,"s":"S","rate":7},{"day":145,"s":"S","rate":6},{"day":146,"s":"S","rate":4},{"day":147,"s":"S","rate":5},{"day":148,"s":"S","rate":6},
{"day":149,"s":"S","rate":5},{"day":150,"s":"S","rate":5},{"day":151,"s":"S","rate":5},{"day":152,"s":"S","rate":6},{"day":154,"s":"S","rate":5},{"day":155,"s":"S","rate":5},{"day":156,"s":"S","rate":5},{"day":157,"s":"S","rate":5},{"day":158,"s":"S","rate":5},{"day":159,"s":"S","rate":4},{"day":160,"s":"S","rate":3},{"day":161,"s":"S","rate":5},{"day":162,"s":"S","rate":4},{"day":164,"s":"S","rate":7},{"day":165,"s":"S","rate":5},{"day":166,"s":"S","rate":3},{"day":167,"s":"S","rate":3},{"day":168,"s":"S","rate":3},{"day":169,"s":"S","rate":4},{"day":170,"s":"S","rate":11},{"day":171,"s":"S","rate":5},{"day":172,"s":"S","rate":7},{"day":173,"s":"S","rate":5},{"day":174,"s":"S","rate":4},{"day":175,"s":"S","rate":6},{"day":176,"s":"S","rate":5},{"day":177,"s":"S","rate":5},{"day":178,"s":"S","rate":6},{"day":179,"s":"S","rate":5},{"day":180,"s":"S","rate":4},{"day":181,"s":"S","rate":6},{"day":182,"s":"S","rate":5},{"day":183,"s":"S","rate":3},{"day":184,"s":"S","rate":3},{"day":185,"s":"S","rate":5},{"day":186,"s":"S","rate":4},{"day":187,"s":"S","rate":4},{"day":188,"s":"S","rate":4},{"day":189,"s":"S","rate":5},{"day":190,"s":"S","rate":4},{"day":191,"s":"S","rate":5},{"day":192,"s":"S","rate":6},{"day":193,"s":"S","rate":4},{"day":194,"s":"S","rate":4},{"day":195,"s":"S","rate":5},{"day":196,"s":"S","rate":5},{"day":197,"s":"S","rate":4},{"day":198,"s":"S","rate":3},{"day":199,"s":"S","rate":4},{"day":201,"s":"S","rate":5},{"day":202,"s":"S","rate":4},{"day":204,"s":"S","rate":14},{"day":205,"s":"S","rate":13},{"day":206,"s":"S","rate":13},{"day":207,"s":"S","rate":14},{"day":208,"s":"S","rate":17},{"day":209,"s":"S","rate":19},{"day":210,"s":"S","rate":17},{"day":211,"s":"S","rate":7},{"day":212,"s":"S","rate":5},{"day":213,"s":"S","rate":6},{"day":214,"s":"S","rate":10},{"day":215,"s":"S","rate":7},{"day":216,"s":"S","rate":8},{"day":217,"s":"S","rate":19},{"day":222,"s":"S","rate":40},{"day":223,"s":"S","rate":38},{"day":228,"s":"S","rate":5},{"day":229,"s":"S","rate":4},{"day":230,"s":"S","rate":3},{"day":231,"s":"S","rate":3},{"day":232,"s":"S","rate":1},{"day":233,"s":"S","rate":2}
]
},
"layer":[
{
"encoding":{
"x":{"field":"day","type":"quantitative","scale":{"domain":[0,234],"nice":false,"zero":false},
"axis":{"values":[0,5,10,15,20,25,30,35,40,45,50,55,60,65,70,75,80,85,90,95,100,105,110,115,120,125,130,135,140,145,150,155,160,165,170,175,180,185,190,195,200,205,210,215,220,225,230],
"labelExpr":"utcFormat(1346284800000 + datum.value * 86400000, '%-m/%-d')","labelAngle":90,"labelAlign":"left","labelBaseline":"middle","labelPadding":7,"labelFontSize":12,"labelColor":"#000","labelOverlap":false,"labelFlush":false,"ticks":false,"grid":true,"gridColor":"#111","gridDash":[12,7],"gridWidth":1,"domainColor":"#000","domainWidth":1.5,"title":null}},
"y":{"field":"lvl","type":"quantitative","scale":{"domain":[2000,4800],"nice":false,"zero":false},
"axis":{"values":[2000,2100,2200,2300,2400,2500,2600,2700,2800,2900,3000,3100,3200,3300,3400,3500,3600,3700,3800,3900,4000,4100,4200,4300,4400,4500,4600,4700,4800],"format":"d",
"labelFontSize":14,"labelFontWeight":"bold","labelColor":"#222","labelPadding":17,"ticks":false,"grid":true,"gridColor":"#111","gridDash":[12,7],"gridWidth":1,"domainColor":"#000","domainWidth":1.5,
"title":"OPレベル [mm]","titleFontSize":12,"titleFontWeight":"normal","titleColor":"#000","titleX":-68,"titleY":369,"titleAngle":-90,"titleAlign":"center","titleBaseline":"middle"}}
},
"layer":[
{"data":{"values":[{"day":0,"day2":234,"lvl":3801}]},"mark":{"type":"rule","color":"#008000","strokeWidth":3},"encoding":{"x2":{"field":"day2"}}},
{"data":{"values":[{"day":0,"day2":234,"lvl":3811}]},"mark":{"type":"rule","color":"#FF00FF","strokeWidth":3},"encoding":{"x2":{"field":"day2"}}},
{"data":{"values":[{"day":0,"day2":233.3,"lvl":2150}]},"mark":{"type":"rule","color":"#000","strokeWidth":1.8},"encoding":{"x2":{"field":"day2"}}},
{"data":{"name":"levels"},"transform":[{"fold":["sb","gr","br"],"as":["series","lvl"]},{"filter":"datum.series === 'sb' && isValid(datum.lvl)"}],
"mark":{"type":"point","shape":"triangle-up","filled":true,"size":45,"opacity":1,"strokeWidth":0,"color":"#00BFF3"}},
{"data":{"name":"levels"},"transform":[{"fold":["sb","gr","br"],"as":["series","lvl"]},{"filter":"datum.series === 'gr' && isValid(datum.lvl)"}],
"mark":{"type":"point","shape":"circle","filled":true,"size":45,"opacity":1,"strokeWidth":0,"color":"#8C8C8C"}},
{"data":{"name":"levels"},"transform":[{"fold":["sb","gr","br"],"as":["series","lvl"]},{"filter":"datum.series === 'br' && isValid(datum.lvl)"}],
"mark":{"type":"point","shape":"diamond","filled":true,"size":50,"opacity":1,"strokeWidth":0,"color":"#993300"}},
{"data":{"values":[{"day":33.2,"day2":71.5,"lvl":4747,"lvl2":4633},{"day":3.5,"day2":42.8,"lvl":4603,"lvl2":4376},{"day":3.8,"day2":38.7,"lvl":4160,"lvl2":3936},{"day":6.6,"day2":41.5,"lvl":3171,"lvl2":3050}]},
"mark":{"type":"rect","fill":"white","stroke":null},"encoding":{"x2":{"field":"day2"},"y2":{"field":"lvl2"}}},
{"data":{"values":[{"day":38.0,"day2":41.6,"lvl":3731,"lvl2":3523},{"day":58.3,"day2":61.9,"lvl":4388,"lvl2":4224},{"day":72.5,"day2":77.7,"lvl":4432,"lvl2":4243},{"day":87.9,"day2":91.7,"lvl":4517,"lvl2":3630},{"day":93.2,"day2":96.8,"lvl":4088,"lvl2":3896},{"day":103.3,"day2":108.4,"lvl":4445,"lvl2":4255},{"day":102.6,"day2":112.6,"lvl":4138,"lvl2":3590},{"day":116.3,"day2":120.5,"lvl":4517,"lvl2":3653},{"day":149.9,"day2":154.4,"lvl":4521,"lvl2":3864},{"day":163.8,"day2":167.0,"lvl":4345,"lvl2":4194},{"day":171.7,"day2":174.9,"lvl":4237,"lvl2":4080},{"day":175.8,"day2":178.9,"lvl":4171,"lvl2":4023},{"day":190.0,"day2":197.5,"lvl":4259,"lvl2":3532},{"day":198.1,"day2":201.7,"lvl":4504,"lvl2":3561},{"day":216.1,"day2":219.3,"lvl":4512,"lvl2":3767},{"day":221.8,"day2":224.4,"lvl":4512,"lvl2":3817},{"day":225.8,"day2":228.7,"lvl":4512,"lvl2":3868}]},
"mark":{"type":"rect","fill":null,"stroke":"#000","strokeWidth":1.6,"strokeDash":[7,5],"cornerRadius":9},"encoding":{"x2":{"field":"day2"},"y2":{"field":"lvl2"}}},
{"data":{"values":[{"day":51.1,"day2":72.2,"lvl":4114,"lvl2":2500}]},
"mark":{"type":"rect","fill":null,"stroke":"#000","strokeWidth":1.6,"strokeDash":[7,5],"cornerRadius":18},"encoding":{"x2":{"field":"day2"},"y2":{"field":"lvl2"}}},
{"data":{"values":[{"day":52.5,"day2":55.6,"lvl":4603,"lvl2":4319},{"day":37.5,"day2":46.1,"lvl":4478,"lvl2":3819},{"day":4.03,"day2":2.3,"lvl":3929,"lvl2":3618},{"day":6.3,"day2":2.65,"lvl":3781,"lvl2":3618},{"day":23.9,"day2":29.0,"lvl":3542,"lvl2":3231},{"day":33.3,"day2":29.6,"lvl":3644,"lvl2":3231}]},
"mark":{"type":"rule","color":"#000","strokeWidth":1.5},"encoding":{"x2":{"field":"day2"},"y2":{"field":"lvl2"}}},
{"data":{"values":[{"day":34.04,"lvl":4690,"label":"サイトバンカ建屋水位"},{"day":4.38,"lvl":4542,"label":"移送ポンプ（CEN-A）"},{"day":4.38,"lvl":4436,"label":"吸込み下限レベル"},{"day":4.71,"lvl":4099,"label":"サイトバンカ建屋"},{"day":4.71,"lvl":3993,"label":"地下１階床面レベル"},{"day":7.47,"lvl":3110,"label":"プロセス主建屋水位"}]},
"mark":{"type":"text","align":"left","baseline":"middle","font":"Noto Sans CJK JP","fontSize":21,"color":"#333"},"encoding":{"text":{"field":"label"}}},
{"data":{"values":[{"day":-6.2,"day2":228.0,"lvl":4948}]},"mark":{"type":"rule","color":"#000","strokeWidth":1.5},"encoding":{"x2":{"field":"day2"}}},
{"data":{"values":[{"day":74.9,"day2":74.9,"lvl":4948,"lvl2":3402},{"day":201.9,"day2":201.9,"lvl":4948,"lvl2":4085},{"day":227.9,"day2":227.9,"lvl":4948,"lvl2":4080}]},
"mark":{"type":"rule","color":"#000","strokeWidth":2},"encoding":{"x2":{"field":"day2"},"y2":{"field":"lvl2"}}},
{"data":{"values":[{"day":73.5,"lvl":4948},{"day":200.5,"lvl":4948},{"day":226.5,"lvl":4948}]},
"mark":{"type":"point","shape":"triangle-right","filled":true,"size":220,"opacity":1,"color":"#000"}},
{"data":{"values":[{"day":76.3,"lvl":4948},{"day":203.3,"lvl":4948}]},
"mark":{"type":"point","shape":"triangle-left","filled":true,"size":220,"opacity":1,"color":"#000"}},
{"data":{"values":[{"day":27.1,"day2":39.4,"lvl":5077,"lvl2":4849},{"day":126.0,"day2":138.2,"lvl":5077,"lvl2":4849},{"day":208.4,"day2":220.7,"lvl":5077,"lvl2":4849}]},
"mark":{"type":"rect","fill":"#FFE680","stroke":"#000","strokeWidth":1.5},"encoding":{"x2":{"field":"day2"},"y2":{"field":"lvl2"}}},
{"data":{"values":[{"day":33.25,"lvl":4961,"label":"a"},{"day":132.1,"lvl":4961,"label":"b"},{"day":214.55,"lvl":4961,"label":"c"}]},
"mark":{"type":"text","align":"center","baseline":"middle","font":"Noto Sans","fontSize":34,"color":"#333"},"encoding":{"text":{"field":"label"}}}
]
},
{
"encoding":{
"x":{"field":"day","type":"quantitative","scale":{"domain":[0,234],"nice":false,"zero":false},
"axis":{"values":[0,5,10,15,20,25,30,35,40,45,50,55,60,65,70,75,80,85,90,95,100,105,110,115,120,125,130,135,140,145,150,155,160,165,170,175,180,185,190,195,200,205,210,215,220,225,230],
"labelExpr":"utcFormat(1346284800000 + datum.value * 86400000, '%-m/%-d')","labelAngle":90,"labelAlign":"left","labelBaseline":"middle","labelPadding":7,"labelFontSize":12,"labelColor":"#000","labelOverlap":false,"labelFlush":false,"ticks":false,"grid":true,"gridColor":"#111","gridDash":[12,7],"gridWidth":1,"domainColor":"#000","domainWidth":1.5,"title":null}},
"y":{"field":"rate","type":"quantitative","scale":{"domain":[-5,40],"nice":false,"zero":false},
"axis":{"orient":"right","values":[-5,0,5,10,15,20,25,30,35,40],"labelFontSize":14,"labelColor":"#222","labelPadding":12,"ticks":false,"grid":false,"domainColor":"#000","domainWidth":1.5,
"title":"変動量 [mm/日]","titleFontSize":13,"titleFontWeight":"normal","titleColor":"#000","titleX":43,"titleY":369,"titleAngle":-90,"titleAlign":"center","titleBaseline":"middle"}}
},
"layer":[
{"data":{"name":"rates"},"transform":[{"filter":"datum.s === 'H'"}],
"mark":{"type":"point","shape":"diamond","filled":true,"size":55,"opacity":1,"strokeWidth":0,"color":"#FF7700"}},
{"data":{"name":"rates"},"transform":[{"filter":"datum.s === 'P'"}],
"mark":{"type":"point","shape":"diamond","filled":true,"size":55,"opacity":1,"strokeWidth":0,"color":"#FF0000"}},
{"data":{"name":"rates"},"transform":[{"filter":"datum.s === 'S'"}],
"mark":{"type":"point","shape":"square","filled":true,"size":45,"opacity":1,"strokeWidth":0,"color":"#0000FF"}},
{"data":{"values":[{"day":22.2,"rate":4.46,"ang":33,"grp":"PMB"},{"day":33.0,"rate":-1.66,"ang":0,"grp":"SB"},{"day":59.6,"rate":1.39,"ang":12,"grp":"PMB"},{"day":74.4,"rate":2.79,"ang":-45,"grp":"SB"},{"day":102.9,"rate":5.77,"ang":0,"grp":"SB"},{"day":108.7,"rate":-0.13,"ang":-13,"grp":"PMB"},{"day":122.3,"rate":3.55,"ang":32,"grp":"SB"},{"day":167.9,"rate":2.85,"ang":0,"grp":"SB"},{"day":167.6,"rate":0.51,"ang":0,"grp":"PMB"},{"day":205.0,"rate":7.54,"ang":-70,"grp":"SB"},{"day":219.1,"rate":1.69,"ang":-78,"grp":"PMB"},{"day":217.4,"rate":20.94,"ang":-78,"grp":"SB"}]},
"mark":{"type":"point","shape":"M-1,-0.22L0.05,-0.22L0.05,-0.4L1,0L0.05,0.4L0.05,0.22L-1,0.22Z","filled":true,"size":6724,"opacity":1,"fillOpacity":0.88,"stroke":"#000","strokeWidth":1.8},
"encoding":{"angle":{"field":"ang","type":"quantitative","scale":null},
"fill":{"field":"grp","type":"nominal","scale":{"domain":["SB","PMB"],"range":["#7393DE","#F98E72"]},"legend":null}}}
]
}
],
"resolve":{"scale":{"y":"independent"}}
}
